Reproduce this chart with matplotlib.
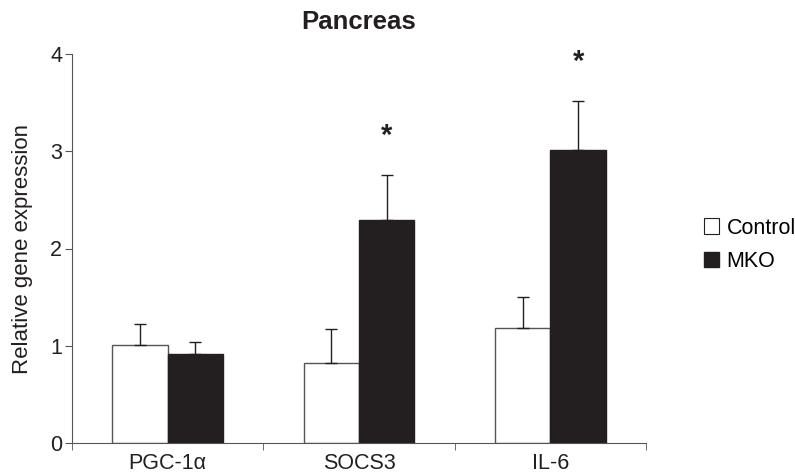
import numpy as np
import matplotlib
matplotlib.use('Agg')
from matplotlib import pyplot as plt
from matplotlib.patches import Patch

genes = ['PGC-1\u03b1', 'SOCS3', 'IL-6']
control_mean = [1.01, 0.82, 1.18]
control_err = [0.21, 0.35, 0.32]
mko_mean = [0.92, 2.29, 3.01]
mko_err = [0.12, 0.47, 0.51]
significant = [False, True, True]

plt.rcParams['font.family'] = ['Liberation Sans', 'DejaVu Sans']

DARK = '#231f20'
AX = '#555555'

fig = plt.figure(figsize=(7.95, 4.75), dpi=100)
ax = fig.add_axes([72 / 795, 32 / 475, 574 / 795, 389 / 475])

x = np.arange(len(genes))
w = 0.29
ax.bar(x - w / 2, control_mean, w, color='white', edgecolor=AX, linewidth=1.0,
       yerr=[np.zeros(len(genes)), control_err], error_kw=dict(ecolor=DARK, elinewidth=1.0, capsize=4, capthick=1.0))
ax.bar(x + w / 2, mko_mean, w, color=DARK, edgecolor=DARK, linewidth=1.0,
       yerr=[np.zeros(len(genes)), mko_err], error_kw=dict(ecolor=DARK, elinewidth=1.0, capsize=4, capthick=1.0))

for i, sig in enumerate(significant):
    if sig:
        ax.text(x[i] + w / 2, mko_mean[i] + mko_err[i] + 0.4, '*', ha='center', va='center',
                fontsize=21, fontweight='bold', color=DARK)

ax.set_xlim(-0.5, len(genes) - 0.5)
ax.set_ylim(0, 4)
ax.set_yticks([0, 1, 2, 3, 4])
ax.set_xticks(x)
ax.set_xticklabels(genes, fontsize=15.5, color=DARK)
ax.set_xticks(np.arange(-0.5, len(genes)), minor=True)
ax.tick_params(axis='x', which='major', length=0, pad=7)
ax.tick_params(axis='x', which='minor', length=5, color=AX, direction='out')
ax.tick_params(axis='y', length=5, color=AX, direction='out', labelsize=15.5, labelcolor=DARK, pad=2)
for side in ['top', 'right']:
    ax.spines[side].set_visible(False)
for side in ['left', 'bottom']:
    ax.spines[side].set_color(AX)
ax.set_ylabel('Relative gene expression', fontsize=16, color=DARK, labelpad=12)
ax.set_title('Pancreas', fontsize=18.5, fontweight='bold', color=DARK, pad=18)

handles = [Patch(facecolor='white', edgecolor=DARK, linewidth=0.8, label='Control'),
           Patch(facecolor=DARK, edgecolor=DARK, label='MKO')]
fig.legend(handles=handles, loc='center left', bbox_to_anchor=(704 / 795, 1 - 245 / 475),
           frameon=False, fontsize=15.5, handlelength=0.7, handleheight=0.7, handletextpad=0.35,
           labelspacing=0.6, borderaxespad=0, borderpad=0)

fig.savefig('out.png', dpi=100)
